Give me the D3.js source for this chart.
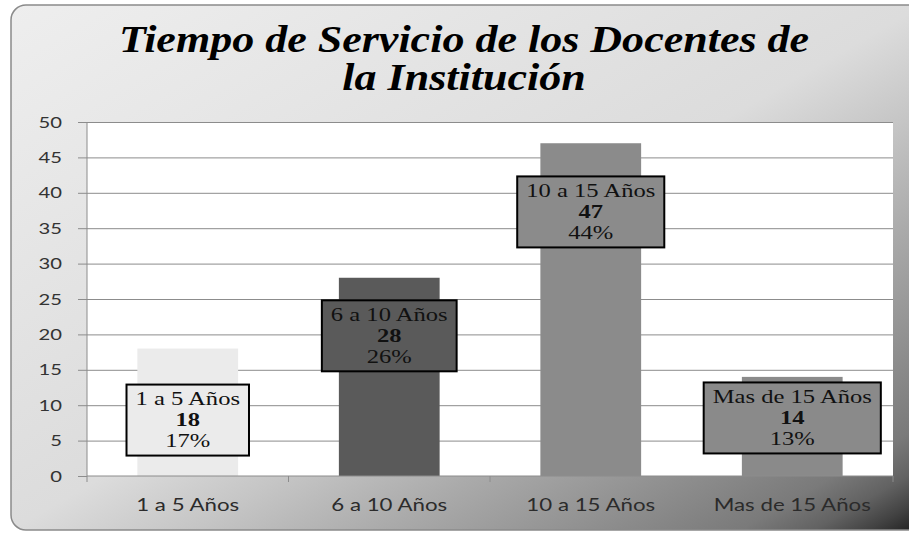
<!DOCTYPE html>
<html>
<head>
<meta charset="utf-8">
<script src="https://d3js.org/d3.v7.min.js"></script>
<style>
body { margin: 0; background: #fff; }
svg text { font-family: Lato, "Open Sans", sans-serif; }
</style>
</head>
<body>
<svg id="chart" width="909" height="534"></svg>
<script>
// datos del grafico
var categories = ["1 a 5 Años", "6 a 10 Años", "10 a 15 Años", "Mas de 15 Años"];
var docentes = [18, 28, 47, 14];
var barColors = ["#ebebeb", "#5a5a5a", "#8b8b8b", "#8a8a8a"];
var yTicks = [0, 5, 10, 15, 20, 25, 30, 35, 40, 45, 50];
var titleLines = ["Tiempo de Servicio de los Docentes de", "la Institución"];
// where each label box sits (centre, in axis units)
var labelAt = [7.9, 19.8, 37.3, 8.2];

var svg = d3.select("#chart");
var plotLeft = 87, plotRight = 893, plotTop = 122, plotBottom = 476;
var stretch = 1.35;
var boxStretch = 1.33;
var total = d3.sum(docentes);
var pct = d3.format(".0%");

var x = d3.scaleBand().domain(categories).range([plotLeft, plotRight]).paddingInner(0.5).paddingOuter(0.25);
var y = d3.scaleLinear().domain([0, 50]).range([plotBottom, plotTop]);

// background frame
var defs = svg.append("defs");
var grad = defs.append("linearGradient").attr("id", "bg")
    .attr("x1", 0).attr("y1", 0).attr("x2", 1).attr("y2", 1);
[[0, "#eeeeee"], [0.5, "#dcdcdc"], [0.6, "#c5c5c5"], [0.7, "#ababab"], [0.8, "#939393"],
 [0.9, "#7a7a7a"], [0.94, "#626262"], [0.97, "#424242"], [1, "#1c1c1c"]].forEach(function(s) {
    grad.append("stop").attr("offset", s[0]).attr("stop-color", s[1]);
});

svg.append("rect")
    .attr("x", 11).attr("y", 5).attr("width", 912).attr("height", 525)
    .attr("rx", 15)
    .attr("fill", "url(#bg)")
    .attr("stroke", "#8a8a8a").attr("stroke-width", 1.5);

// plot area
svg.append("rect")
    .attr("x", plotLeft).attr("y", plotTop).attr("width", plotRight - plotLeft).attr("height", plotBottom - plotTop)
    .attr("fill", "#fff");

// title
svg.selectAll(".title")
    .data(titleLines)
    .enter()
    .append("text")
    .attr("class", "title")
    .attr("transform", (d, i) => `translate(464,${52 + i * 38}) scale(1.19,1)`)
    .attr("text-anchor", "middle")
    .style("font-family", "'Liberation Serif', 'Times New Roman', serif")
    .style("font-style", "italic")
    .style("font-weight", "bold")
    .style("font-size", "37px")
    .attr("fill", "#000")
    .text(d => d);

// gridlines
svg.append("g")
    .attr("transform", `translate(${plotLeft},0)`)
    .call(d3.axisLeft(y).tickValues(yTicks.slice(1)).tickSize(-(plotRight - plotLeft)).tickFormat(""))
    .call(g => g.select(".domain").remove())
    .call(g => g.selectAll("line").attr("stroke", "#8c8c8c"));

// bars
svg.selectAll(".bar")
    .data(docentes)
    .enter()
    .append("rect")
    .attr("class", "bar")
    .attr("x", (d, i) => x(categories[i]))
    .attr("y", d => y(d))
    .attr("width", x.bandwidth())
    .attr("height", d => y(0) - y(d))
    .attr("fill", (d, i) => barColors[i]);

// y axis
var yAxis = svg.append("g")
    .attr("transform", `translate(${plotLeft},0)`)
    .call(d3.axisLeft(y).tickValues(yTicks).tickSize(9).tickPadding(0));
yAxis.select(".domain").attr("d", `M0,${plotTop}V${plotBottom + 6}`).attr("stroke", "#8c8c8c");
yAxis.selectAll(".tick line").attr("stroke", "#8c8c8c");
yAxis.selectAll(".tick text")
    .attr("x", null)
    .attr("dy", null)
    .attr("transform", `translate(-25,5) scale(${stretch},1)`)
    .attr("fill", "#333")
    .style("font-size", "15px");

// x axis
svg.append("line")
    .attr("x1", plotLeft).attr("x2", plotRight).attr("y1", plotBottom).attr("y2", plotBottom)
    .attr("stroke", "#8c8c8c");
svg.selectAll(".xtick")
    .data(d3.range(1, categories.length + 1))
    .enter()
    .append("line")
    .attr("class", "xtick")
    .attr("x1", i => plotLeft + i * x.step()).attr("x2", i => plotLeft + i * x.step())
    .attr("y1", plotBottom).attr("y2", plotBottom + 6)
    .attr("stroke", "#8c8c8c");
svg.selectAll(".xlabel")
    .data(categories)
    .enter()
    .append("text")
    .attr("class", "xlabel")
    .attr("transform", d => `translate(${x(d) + x.bandwidth() / 2},511) scale(${stretch},1)`)
    .attr("text-anchor", "middle")
    .attr("fill", "#2b2b2b")
    .style("font-size", "16.5px")
    .text(d => d);

// label boxes
categories.forEach(function(cat, i) {
    var g = svg.append("g")
        .attr("transform", `translate(${x(cat) + x.bandwidth() / 2},${y(labelAt[i])})`);
    var box = g.append("rect");
    var t = g.append("g").attr("transform", `scale(${boxStretch},1)`);
    var lines = [cat, docentes[i], pct(docentes[i] / total)];
    lines.forEach(function(s, j) {
        t.append("text")
            .attr("y", -15 + j * 21)
            .attr("text-anchor", "middle")
            .style("font-family", "'Liberation Serif', 'Times New Roman', serif")
            .style("font-size", "18.5px")
            .style("font-weight", j == 1 ? "bold" : "normal")
            .attr("fill", "#111")
            .text(s);
    });
    var w = t.node().getBBox().width * boxStretch + 18;
    box.attr("x", -w / 2).attr("y", -35.5).attr("width", w).attr("height", 71)
        .attr("fill", barColors[i])
        .attr("stroke", "#000").attr("stroke-width", 2);
});
</script>
</body>
</html>
